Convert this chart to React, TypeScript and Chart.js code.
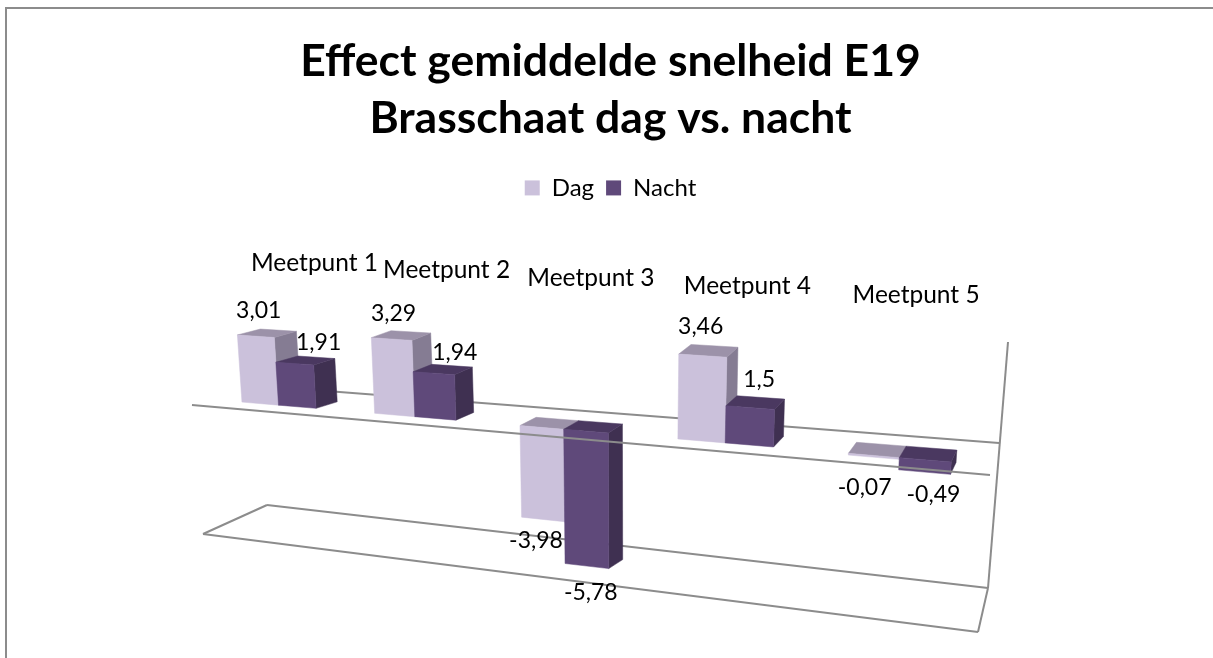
import React, { useEffect, useRef } from "react";
import { Chart, registerables } from "chart.js";

Chart.register(...registerables);

const categories = ["Meetpunt 1", "Meetpunt 2", "Meetpunt 3", "Meetpunt 4", "Meetpunt 5"];
const dagValues = [3.01, 3.29, -3.98, 3.46, -0.07];
const nachtValues = [1.91, 1.94, -5.78, 1.5, -0.49];
const seriesNames = ["Dag", "Nacht"];
const titleLines = ["Effect gemiddelde snelheid E19", "Brasschaat dag vs. nacht"];

const FONT = "Lato, Carlito, Calibri, sans-serif";
const PALETTE = [
  { front: "#CBC1DB", top: "#9C92A9", side: "#857C93" },
  { front: "#5F497A", top: "#4A3860", side: "#3F3051" },
];
const FRAME = "#8C8C8C";

// Projection of the flat chart onto the tilted 3D view of the original.
const floorX = (t: number) => 278.5 + 130 * t + 6.3 * t * t;
const project = (x: number, v: number, depth: number) => {
  const perUnit = (22.3 + (x - 241) * 0.0051) * (v < 0 ? 0.97 : 1);
  const rise = v * perUnit;
  return {
    x: x + (x - 620) * 0.00018 * rise + depth * (23 - (x - 240) * 0.0245),
    y: 402 + (x - 241) * 0.0845 - rise + depth * (-6.5 - (x - 316) * 0.0085),
  };
};

// Label nudges relative to the end of each bar [dag, nacht].
const labelNudge = [
  [[3, -26], [24, -21]],
  [[2, -25], [21, -21]],
  [[-7, 21], [4, 27]],
  [[-2, -29], [9, -28]],
  [[-9, 30], [9, 23]],
];

const frameLines = [
  [262, 386, 999, 443],
  [192, 405, 990, 475],
  [1008, 342, 988, 588],
  [267, 505, 988, 588],
  [203, 534, 978, 632],
  [203, 534, 267, 505],
  [978, 632, 988, 588],
];

const view3d = {
  id: "view3d",
  beforeDatasetsDraw(chart: any) {
    const { ctx, width, height } = chart;
    ctx.save();
    ctx.strokeStyle = FRAME;
    ctx.lineWidth = 2;
    ctx.beginPath();
    ctx.moveTo(6, height);
    ctx.lineTo(6, 8);
    ctx.lineTo(width, 8);
    ctx.stroke();
    frameLines.slice(0, 1).concat(frameLines.slice(2)).forEach(([a, b, c, d]) => {
      ctx.beginPath();
      ctx.moveTo(a, b);
      ctx.lineTo(c, d);
      ctx.stroke();
    });
    ctx.restore();
  },
  beforeDatasetDraw() {
    return false;
  },
  afterDatasetsDraw(chart: any) {
    const { ctx, scales } = chart;
    const y = scales.y;
    const x = scales.x;
    const catWidth = x.getPixelForValue(1) - x.getPixelForValue(0);
    const toT = (px: number) => (px - x.getPixelForValue(0)) / catWidth;
    const face = (pts: { x: number; y: number }[], color: string) => {
      ctx.beginPath();
      pts.forEach((p, i) => (i ? ctx.lineTo(p.x, p.y) : ctx.moveTo(p.x, p.y)));
      ctx.closePath();
      ctx.fillStyle = color;
      ctx.strokeStyle = color;
      ctx.lineWidth = 0.5;
      ctx.fill();
      ctx.stroke();
    };
    ctx.save();
    categories.forEach((_, i) => {
      [0, 1].forEach((ds) => {
        const el: any = chart.getDatasetMeta(ds).data[i];
        const left = floorX(toT(el.x - el.width / 2));
        const right = floorX(toT(el.x + el.width / 2));
        const value = y.getValueForPixel(el.y);
        const hi = Math.max(value, 0);
        const lo = Math.min(value, 0);
        const c = PALETTE[ds];
        face([project(right, hi, 0), project(right, hi, 1), project(right, lo, 1), project(right, lo, 0)], c.side);
        face([project(left, hi, 0), project(left, hi, 1), project(right, hi, 1), project(right, hi, 0)], c.top);
        face([project(left, hi, 0), project(right, hi, 0), project(right, lo, 0), project(left, lo, 0)], c.front);
      });
    });
    // The front floor line runs in front of the bars.
    const [a, b, c, d] = frameLines[1];
    ctx.strokeStyle = FRAME;
    ctx.lineWidth = 2;
    ctx.beginPath();
    ctx.moveTo(a, b);
    ctx.lineTo(c, d);
    ctx.stroke();

    ctx.fillStyle = "#000";
    ctx.textAlign = "center";
    ctx.textBaseline = "middle";
    categories.forEach((name, i) => {
      const cx = floorX(toT(x.getPixelForValue(i)));
      ctx.font = `24.5px ${FONT}`;
      ctx.fillText(name, cx + 36 - (cx - 278.5) * 0.031, 263 + (cx - 278.5) * 0.0515);
      ctx.font = `23px ${FONT}`;
      [0, 1].forEach((ds) => {
        const el: any = chart.getDatasetMeta(ds).data[i];
        const mid = floorX(toT(el.x));
        const value = y.getValueForPixel(el.y);
        const end = project(mid, value, 0);
        const raw = chart.data.datasets[ds].data[i] as number;
        const [nx, ny] = labelNudge[i][ds];
        ctx.fillText(String(raw).replace(".", ","), end.x + nx, end.y + ny);
      });
    });
    ctx.restore();
  },
};

export default function App() {
  const ref = useRef<HTMLCanvasElement>(null);
  useEffect(() => {
    const chart = new Chart(ref.current!, {
      type: "bar",
      data: {
        labels: categories,
        datasets: [
          { label: seriesNames[0], data: dagValues, backgroundColor: PALETTE[0].front, categoryPercentage: 0.57, barPercentage: 1 },
          { label: seriesNames[1], data: nachtValues, backgroundColor: PALETTE[1].front, categoryPercentage: 0.57, barPercentage: 1 },
        ],
      },
      options: {
        responsive: false,
        animation: false,
        layout: { padding: { left: 8 } },
        events: [],
        scales: {
          x: { display: false },
          y: { display: false, min: -7, max: 5 },
        },
        plugins: {
          tooltip: { enabled: false },
          title: {
            display: true,
            text: titleLines,
            color: "#000",
            font: { family: FONT, size: 44.5, weight: "bold", lineHeight: 1.28 },
            padding: { top: 33, bottom: 17 },
          },
          legend: {
            display: true,
            position: "top",
            labels: {
              color: "#000",
              font: { family: FONT, size: 24 },
              boxWidth: 15,
              boxHeight: 15,
              padding: 12,
            },
          },
        },
      },
      plugins: [view3d],
    });
    return () => chart.destroy();
  }, []);
  return (
    <canvas
      ref={ref}
      width={1213}
      height={658}
      style={{ position: "fixed", left: 0, top: 0, width: 1213, height: 658, display: "block" }}
    />
  );
}
